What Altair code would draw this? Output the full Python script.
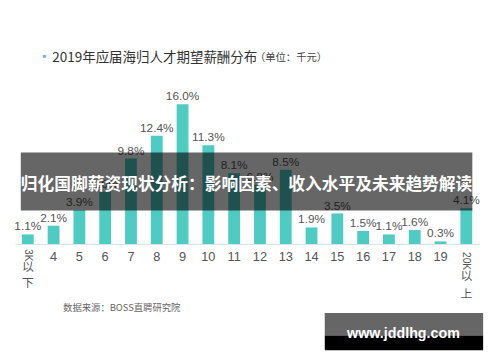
import altair as alt
import pandas as pd

categories = ["3K以下", "4", "5", "6", "7", "8", "9", "10", "11", "12", "13",
              "14", "15", "16", "17", "18", "19", "20K以上"]
values = [1.1, 2.1, 3.9, 6.0, 9.8, 12.4, 16.0, 11.3, 8.1, 6.8, 8.5,
          1.9, 3.5, 1.5, 1.1, 1.6, 0.3, 4.1]
value_labels = [f"{v:.1f}%" for v in values]
plain_ticks = categories[1:-1]
rot_ticks = {"3K以下": "3K", "20K以上": "20K"}
stack_ticks = {"3K以下": "以\n下", "20K以上": "以\n上"}

title_main = "2019年应届海归人才期望薪酬分布"
title_unit = "（单位：千元）"
source_text = "数据来源：BOSS直聘研究院"
banner_text = "归化国脚薪资现状分析：影响因素、收入水平及未来趋势解读"
watermark_text = "www.jddlhg.com"

df = pd.DataFrame({"cat": categories, "val": values, "lab": value_labels})
ticks_df = pd.DataFrame({"cat": plain_ticks})
rot_df = pd.DataFrame({"cat": list(rot_ticks.keys()), "t": list(rot_ticks.values())})
stack_df = pd.DataFrame({"cat": list(stack_ticks.keys()), "t": list(stack_ticks.values())})

W, H = 472, 237
x = alt.X("cat:N", sort=categories,
          scale=alt.Scale(domain=categories, paddingInner=0, paddingOuter=0),
          axis=alt.Axis(labels=False, ticks=False, title=None, domain=True,
                        domainColor="#d4e9e7", domainWidth=1.2, grid=False))
y = alt.Y("val:Q", scale=alt.Scale(domain=[0, 26.7], nice=False, zero=True),
          axis=None)
xc = alt.X("cat:N", sort=categories)

bars = alt.Chart(df).mark_bar(size=12, color="#4ecbc2").encode(x=x, y=y)
labels = alt.Chart(df).mark_text(font="Liberation Sans", fontSize=12, color="#555555",
                                 baseline="alphabetic", dy=-4).encode(
    x=xc, y="val:Q", text="lab:N")

xt = alt.Chart(ticks_df).mark_text(font="Liberation Sans", fontSize=13, color="#555555",
                                   baseline="middle").encode(
    x=xc, y=alt.value(250), text="cat:N")


def rot_layer(cat, ystart):
    return alt.Chart(rot_df).transform_filter(alt.datum.cat == cat).mark_text(
        font="Liberation Sans", fontSize=10.5, color="#555555",
        angle=90, align="left", baseline="middle").encode(
        x=xc, y=alt.value(ystart), text="t:N")


def stack_layer(cat, ytop, lh):
    return alt.Chart(stack_df).transform_filter(alt.datum.cat == cat).mark_text(
        font="Noto Sans CJK SC", fontSize=12, color="#555555",
        baseline="top", lineBreak="\n", lineHeight=lh).encode(
        x=xc, y=alt.value(ytop), text="t:N")


xr1 = rot_layer("3K以下", 242)
xr2 = rot_layer("20K以上", 245)
xs1 = stack_layer("3K以下", 255, 17)
xs2 = stack_layer("20K以上", 265, 18)

dot = alt.Chart(pd.DataFrame({"t": ["·"]})).mark_text(
    font="Noto Sans CJK SC", fontSize=16, color="#6fb8b2", baseline="middle", align="center"
).encode(x=alt.value(30), y=alt.value(47), text="t:N")
tmain = alt.Chart(pd.DataFrame({"t": [title_main]})).mark_text(
    font="Noto Sans CJK SC", fontSize=13.7, color="#333333", baseline="middle", align="left"
).encode(x=alt.value(38), y=alt.value(48), text="t:N")
tunit = alt.Chart(pd.DataFrame({"t": [title_unit]})).mark_text(
    font="Noto Sans CJK SC", fontSize=10.5, color="#444444", baseline="middle", align="left"
).encode(x=alt.value(244), y=alt.value(48), text="t:N")
src = alt.Chart(pd.DataFrame({"t": [source_text]})).mark_text(
    font="Noto Sans CJK SC", fontSize=9.5, color="#666666", baseline="middle", align="left"
).encode(x=alt.value(49), y=alt.value(302), text="t:N")

banner = alt.Chart(pd.DataFrame({"a": [0]})).mark_rect(color="black", opacity=0.6).encode(
    x=alt.value(6), x2=alt.value(465), y=alt.value(144), y2=alt.value(203))
banner_t = alt.Chart(pd.DataFrame({"t": [banner_text]})).mark_text(
    font="Noto Sans CJK SC", fontWeight="bold", fontSize=17, color="white",
    baseline="middle", align="center"
).encode(x=alt.value(235.5), y=alt.value(177), text="t:N")

wm_grey = alt.Chart(pd.DataFrame({"a": [0]})).mark_rect(color="#666666").encode(
    x=alt.value(315), x2=alt.value(476), y=alt.value(307), y2=alt.value(330))
wm_black = alt.Chart(pd.DataFrame({"a": [0]})).mark_rect(color="black").encode(
    x=alt.value(315), x2=alt.value(476), y=alt.value(330), y2=alt.value(345))
wm_t = alt.Chart(pd.DataFrame({"t": [watermark_text]})).mark_text(
    font="Liberation Sans", fontWeight="bold", fontSize=14.5, color="white",
    baseline="alphabetic", align="center"
).encode(x=alt.value(395), y=alt.value(333), text="t:N")

chart = alt.layer(bars, labels, xt, xr1, xr2, xs1, xs2, dot, tmain, tunit, src,
                  banner, banner_t, wm_grey, wm_black, wm_t).properties(
    width=W, height=H,
    padding={"left": 7, "top": 0, "right": 13, "bottom": 117},
    autosize=alt.AutoSizeParams(type="none"),
    background="white",
).configure_view(stroke=None)

chart.save("out.html", embed_options={"renderer": "svg", "actions": False})
